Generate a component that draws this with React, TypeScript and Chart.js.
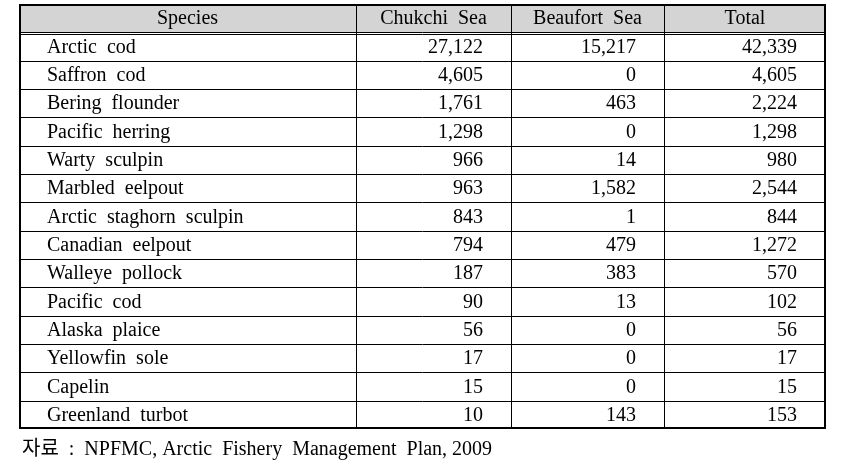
import React, { useEffect, useRef } from "react";
import { Chart, registerables } from "chart.js";

Chart.register(...registerables);

const headers = ["Species", "Chukchi  Sea", "Beaufort  Sea", "Total"];
const species = [
  "Arctic  cod",
  "Saffron  cod",
  "Bering  flounder",
  "Pacific  herring",
  "Warty  sculpin",
  "Marbled  eelpout",
  "Arctic  staghorn  sculpin",
  "Canadian  eelpout",
  "Walleye  pollock",
  "Pacific  cod",
  "Alaska  plaice",
  "Yellowfin  sole",
  "Capelin",
  "Greenland  turbot",
];
const chukchi = [27122, 4605, 1761, 1298, 966, 963, 843, 794, 187, 90, 56, 17, 15, 10];
const beaufort = [15217, 0, 463, 0, 14, 1582, 1, 479, 383, 13, 0, 0, 0, 143];
const total = [42339, 4605, 2224, 1298, 980, 2544, 844, 1272, 570, 102, 56, 17, 15, 153];
const caption = "자료  :  NPFMC, Arctic  Fishery  Management  Plan, 2009";

// column edges in table units (x scale)
const colEdges = [0, 337, 492, 645, 807];

const FONT = '20px "Liberation Serif", "Times New Roman", serif';
const CAP_FONT = '20px "Liberation Serif", "Noto Sans CJK KR", serif';

const tablePlugin = {
  id: "tableDraw",
  afterDraw(chart: any) {
    const { ctx, chartArea, scales } = chart;
    const x = scales.x;
    const y = scales.y;
    const nRows = species.length + 1;
    const half = (y.getPixelForValue(1) - y.getPixelForValue(0)) / 2;
    const rowTop = (i: number) => y.getPixelForValue(i) - half;
    const colX = colEdges.map((v) => x.getPixelForValue(v));
    const L = chartArea.left, R = chartArea.right, T = chartArea.top, B = chartArea.bottom;

    ctx.save();
    // header background
    ctx.fillStyle = "#d4d4d4";
    ctx.fillRect(L, T, R - L, Math.round(rowTop(1)) - T);

    ctx.strokeStyle = "#000";
    ctx.lineWidth = 1;
    // horizontal lines
    for (let i = 1; i < nRows; i++) {
      const yy = Math.round(rowTop(i)) + 0.5;
      ctx.beginPath();
      ctx.moveTo(L, yy);
      ctx.lineTo(R, yy);
      ctx.stroke();
      if (i === 1) {
        ctx.beginPath();
        ctx.moveTo(L, yy + 2);
        ctx.lineTo(R, yy + 2);
        ctx.stroke();
      }
    }
    // vertical lines
    for (let j = 1; j < colX.length - 1; j++) {
      const xx = Math.round(colX[j]) + 0.5;
      ctx.beginPath();
      ctx.moveTo(xx, T);
      ctx.lineTo(xx, B);
      ctx.stroke();
    }
    // outer border
    ctx.lineWidth = 2;
    ctx.strokeRect(L + 1, T + 1, R - L - 2, B - T - 2);

    // header text
    ctx.fillStyle = "#000";
    ctx.font = FONT;
    ctx.textBaseline = "middle";
    ctx.textAlign = "center";
    headers.forEach((h, j) => {
      ctx.fillText(h, (colX[j] + colX[j + 1]) / 2, y.getPixelForValue(0) + 1);
    });

    const fmt = (v: number) => v.toLocaleString("en-US");
    species.forEach((s, i) => {
      const cy = y.getPixelForValue(i + 1) + 1;
      ctx.textAlign = "left";
      ctx.fillText(s, colX[0] + 28, cy);
      ctx.textAlign = "right";
      ctx.fillText(fmt(chukchi[i]), colX[2] - 28, cy);
      ctx.fillText(fmt(beaufort[i]), colX[3] - 28, cy);
      ctx.fillText(fmt(total[i]), colX[4] - 29, cy);
    });

    // caption
    ctx.font = CAP_FONT;
    ctx.textAlign = "left";
    ctx.fillText(caption, L + 3, B + 21);
    ctx.restore();
  },
};

export default function App() {
  const ref = useRef<HTMLCanvasElement | null>(null);
  useEffect(() => {
    if (!ref.current) return;
    const chart = new Chart(ref.current, {
      type: "bar",
      data: {
        labels: ["Species", ...species],
        datasets: [],
      },
      options: {
        animation: false,
        responsive: false,
        maintainAspectRatio: false,
        layout: { padding: { left: 19, right: 16, top: 4, bottom: 44 } },
        plugins: { legend: { display: false }, tooltip: { enabled: false } },
        scales: {
          x: {
            type: "linear",
            min: colEdges[0],
            max: colEdges[colEdges.length - 1],
            offset: false,
            grace: 0,
            display: false,
          },
          y: { type: "category", offset: true, display: false },
        },
      },
      plugins: [tablePlugin],
    });
    return () => chart.destroy();
  }, []);
  return (
    <div style={{ position: "fixed", left: 0, top: 0, width: 842, height: 473, background: "#fff" }}>
      <canvas ref={ref} width={842} height={473} style={{ width: 842, height: 473 }} />
    </div>
  );
}
